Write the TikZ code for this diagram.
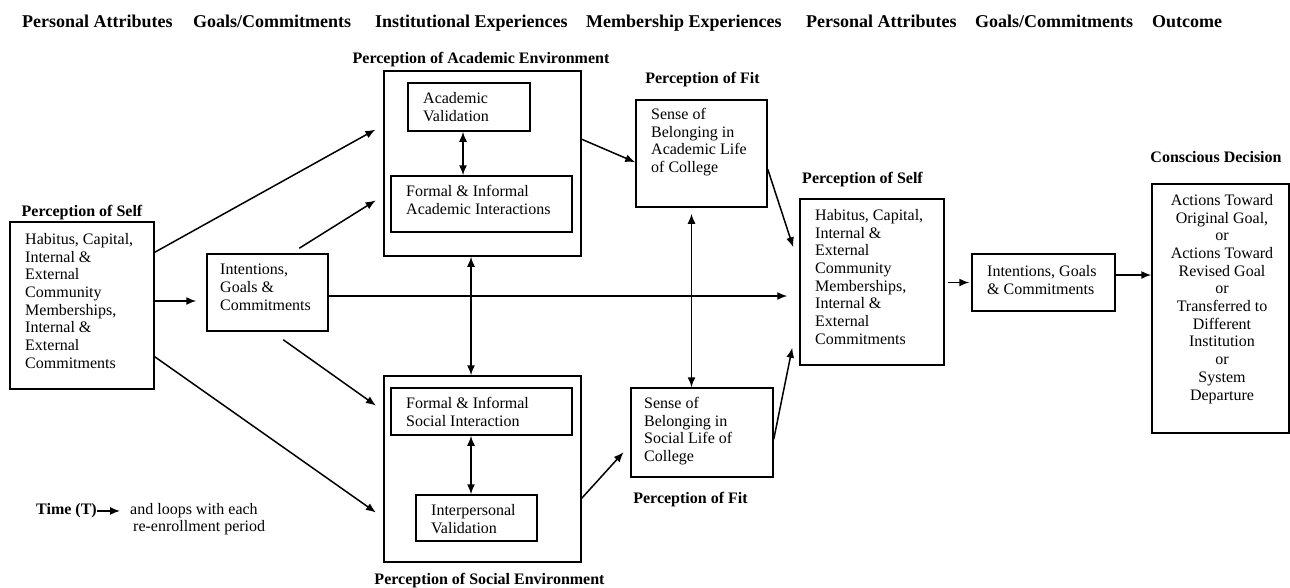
\documentclass[tikz,border=0pt]{standalone}
\usepackage{fontspec}
\setmainfont{Liberation Serif}
\usetikzlibrary{arrows.meta,calc}
\begin{document}
\begin{tikzpicture}[x=1pt,y=-1pt,
  box/.style={draw, line width=1.5pt, rectangle, inner sep=0pt},
  txt/.style={font=\fontsize{16}{17.7}\selectfont, align=left, inner sep=0pt, anchor=north west},
  lab/.style={font=\bfseries\fontsize{16}{18}\selectfont, inner sep=0pt, anchor=base},
  hd/.style={font=\bfseries\fontsize{18}{20}\selectfont, inner sep=0pt, anchor=base west},
  arr/.style={line width=1.5pt, -{Latex[length=10pt,width=8pt]}},
  darr/.style={line width=1.5pt, {Latex[length=10pt,width=8pt]}-{Latex[length=10pt,width=8pt]}},
]
\fill[white] (0,0) rectangle (1290,587);
\useasboundingbox (0,0) rectangle (1290,587);

% header
\node[hd] (h1) at (22,27) {Personal Attributes};
\node[hd] (h2) at (193,27) {Goals/Commitments};
\node[hd] (h3) at (375,27) {Institutional Experiences};
\node[hd] (h4) at (586,27) {Membership Experiences};
\node[hd] (h5) at (806,27) {Personal Attributes};
\node[hd] (h6) at (975,27) {Goals/Commitments};
\node[hd] (h7) at (1152,27) {Outcome};

% boxes
\node[box, minimum width=144pt, minimum height=167pt] (self1) at (82,305.5) {};
\node[box, minimum width=121pt, minimum height=77pt] (int1) at (267.5,292.5) {};
\node[box, minimum width=197pt, minimum height=185pt] (acad) at (482.5,163.5) {};
\node[box, minimum width=122pt, minimum height=48pt] (av) at (469,107) {};
\node[box, minimum width=181pt, minimum height=56pt] (fai) at (481.5,204) {};
\node[box, minimum width=197pt, minimum height=186pt] (soc) at (482.5,469) {};
\node[box, minimum width=181pt, minimum height=47pt] (fsi) at (481.5,411.5) {};
\node[box, minimum width=121pt, minimum height=46pt] (iv) at (476.5,518) {};
\node[box, minimum width=131pt, minimum height=107pt] (sba) at (701.5,153.5) {};
\node[box, minimum width=142pt, minimum height=89pt] (sbs) at (702,432.5) {};
\node[box, minimum width=144pt, minimum height=166pt] (self2) at (872,282) {};
\node[box, minimum width=143pt, minimum height=57pt] (int2) at (1043.5,282.5) {};
\node[box, minimum width=137pt, minimum height=249pt] (dec) at (1220.5,308.5) {};

% box texts
\node[txt] (self1t) at (25,233) {Habitus, Capital,\\Internal \&\\External\\Community\\Memberships,\\Internal \&\\External\\Commitments};
\node[txt] (int1t) at (220,264) {Intentions,\\Goals \&\\Commitments};
\node[txt] (avt) at (423,92) {Academic\\Validation};
\node[txt] (fait) at (406,185) {Formal \& Informal\\Academic Interactions};
\node[txt] (fsit) at (406,397) {Formal \& Informal\\Social Interaction};
\node[txt] (ivt) at (431,504) {Interpersonal\\Validation};
\node[txt] (sbat) at (651,108) {Sense of\\Belonging in\\Academic Life\\of College};
\node[txt] (sbst) at (644,397) {Sense of\\Belonging in\\Social Life of\\College};
\node[txt] (self2t) at (815,209) {Habitus, Capital,\\Internal \&\\External\\Community\\Memberships,\\Internal \&\\External\\Commitments};
\node[txt] (int2t) at (987,265) {Intentions, Goals\\\& Commitments};
\node[txt, anchor=north, align=center] (dect) at (1222,194) {Actions Toward\\Original Goal,\\or\\Actions Toward\\Revised Goal\\or\\Transferred to\\Different\\Institution\\or\\System\\Departure};

% labels
\node[lab] (lself1) at (82,216) {Perception of Self};
\node[lab] (lacad) at (481,63) {Perception of Academic Environment};
\node[lab] (lfit1) at (702.5,83) {Perception of Fit};
\node[lab] (lself2) at (862.5,183) {Perception of Self};
\node[lab] (ldec) at (1216,162) {Conscious Decision};
\node[lab] (lfit2) at (690.5,503) {Perception of Fit};
\node[lab] (lsoc) at (489.5,584) {Perception of Social Environment};

% time note
\node[font=\bfseries\fontsize{16}{18}\selectfont, inner sep=0pt, anchor=north west] (time) at (36,503.5) {Time (T)};
\node[txt, font=\fontsize{16}{16.5}\selectfont] (loops) at (130,503.5) {and loops with each\\\hspace*{3pt}re-enrollment period};
\draw[arr, shorten >=10pt] (time.east) -- (time.east -| loops.west);

% connectors
\draw[arr, shorten >=10pt] ($(self1.east)+(0,-4.5)$) -- ($(int1.west)+(0,8.5)$);
\draw[arr, shorten >=9pt] ($(self1.north east)+(0,31)$) -- ($(acad.north west)+(0,55)$);
\draw[arr, shorten >=9pt] ($(int1.north west)+(93,-5)$) -- ($(acad.north west)+(0,125.4)$);
\draw[arr, shorten >=9pt] ($(int1.south west)+(77,8)$) -- ($(soc.north west)+(0,35.5)$);
\draw[arr, shorten >=9pt] ($(self1.south east)+(0,-33)$) -- ($(soc.north west)+(0,142.4)$);
\draw[arr, shorten >=12pt] ($(int1.east)+(0,3.5)$) -- ($(self2.west)+(0,14)$);
\draw[darr] ($(av.south)+(-6,0)$) coordinate (c7) -- (c7 |- fai.north);
\draw[darr] ($(acad.south)+(-11.5,0)$) coordinate (c8) -- (c8 |- soc.north);
\draw[darr] ($(fsi.south)+(-10.5,0)$) coordinate (c9) -- (c9 |- iv.north);
\draw[arr] ($(acad.north east)+(0,69)$) -- ($(sba.north west)+(0,63)$);
\draw[arr, shorten >=10pt] ($(soc.north east)+(0,123)$) -- ($(sbs.north west)+(0,57.5)$);
\draw[darr, shorten <=6pt] ($(sba.south)+(-10,0)$) coordinate (c12) -- (c12 |- sbs.north);
\draw[arr] ($(sba.north east)+(0,70)$) -- ($(self2.north west)+(-6,49)$);
\draw[arr] ($(sbs.north east)+(0,52)$) -- ($(self2.south west)+(-7,-18)$);
\draw[arr, shorten <=3pt, shorten >=2pt] (self2.east |- int2.west) -- (int2.west);
\draw[arr] ($(int2.east)+(0,-7.5)$) coordinate (c16) -- (c16 -| dec.west);
\end{tikzpicture}
\end{document}
